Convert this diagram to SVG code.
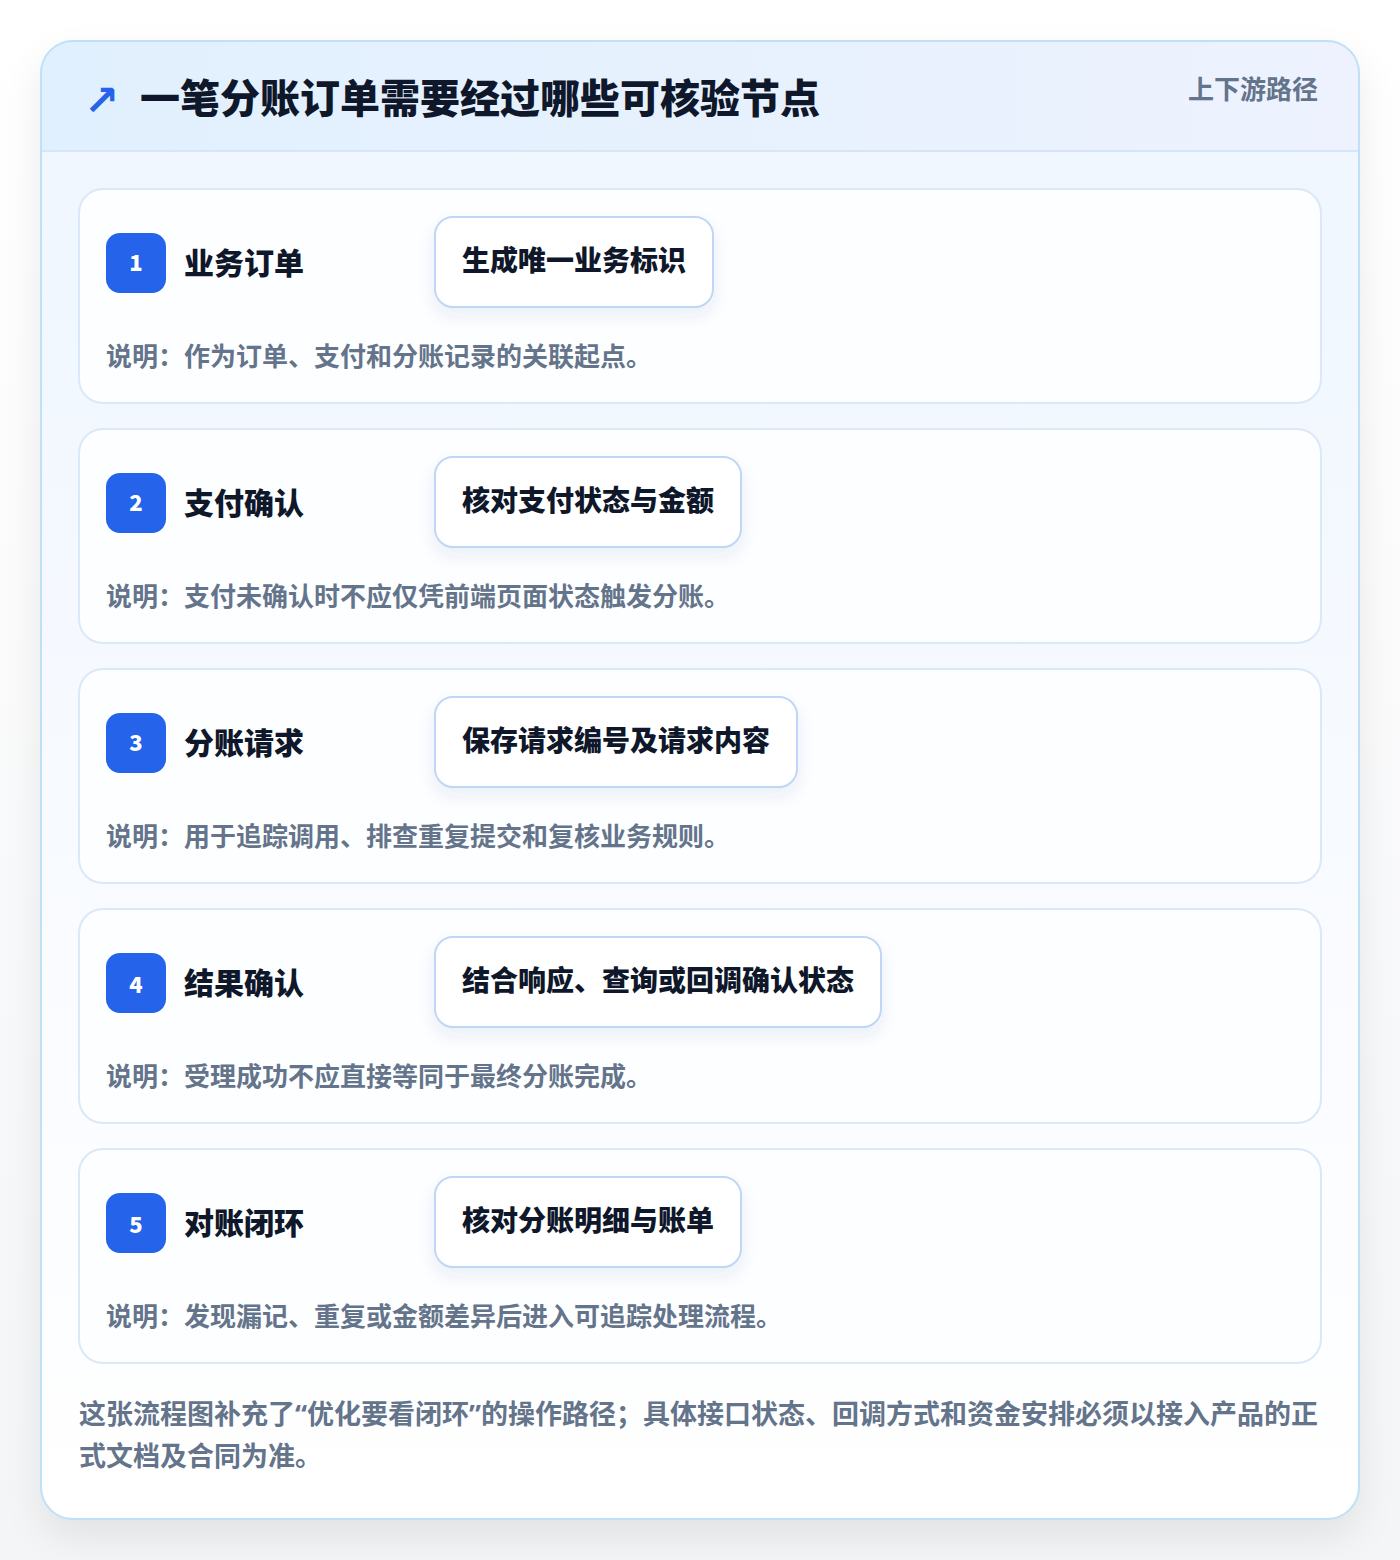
<svg xmlns="http://www.w3.org/2000/svg" width="1400" height="1560" viewBox="0 0 1400 1560">
<defs>
<linearGradient id="bg" x1="0" y1="0" x2="0" y2="1"><stop offset="0" stop-color="#ffffff"/><stop offset="1" stop-color="#f4f5f7"/></linearGradient>
<linearGradient id="card" x1="0" y1="0" x2="0" y2="1"><stop offset="0" stop-color="#eef6ff"/><stop offset="0.5" stop-color="#f7faff"/><stop offset="1" stop-color="#ffffff"/></linearGradient>
<linearGradient id="head" x1="0" y1="0" x2="1" y2="0"><stop offset="0" stop-color="#e1f0fe"/><stop offset="1" stop-color="#edf2fe"/></linearGradient>
<filter id="sh" x="-10%" y="-10%" width="120%" height="120%"><feDropShadow dx="0" dy="18" stdDeviation="18" flood-color="#0f172a" flood-opacity="0.08"/></filter>
<filter id="psh" x="-20%" y="-30%" width="140%" height="170%"><feDropShadow dx="0" dy="8" stdDeviation="8" flood-color="#1e3a8a" flood-opacity="0.08"/></filter>
<clipPath id="cc"><rect x="41" y="41" width="1318" height="1478" rx="32"/></clipPath>
</defs>
<style>
text{font-family:"Noto Sans CJK SC","Noto Sans",sans-serif}
.step{fill:#fdfeff;stroke:#dbe8f8;stroke-width:2}
.badge{fill:#2563eb}
.num{fill:#ffffff;font-size:22px;font-weight:800;text-anchor:middle}
.ttl{fill:#0f172a;font-size:30px;font-weight:800}
.pill{fill:#ffffff;stroke:#bfd6f6;stroke-width:2}
.ptx{fill:#0f172a;font-size:28px;font-weight:800}
.desc{fill:#64748b;font-size:26px;font-weight:700}
.foot{fill:#64748b;font-size:27px;font-weight:700}
.q{font-family:"Noto Sans","DejaVu Sans",sans-serif}
</style>
<rect width="1400" height="1560" fill="url(#bg)"/>
<g id="frame">
<rect x="41" y="41" width="1318" height="1478" rx="32" fill="url(#card)" filter="url(#sh)"/>
<g clip-path="url(#cc)">
<rect x="41" y="41" width="1318" height="110" fill="url(#head)"/>
<line x1="41" y1="151" x2="1359" y2="151" stroke="#d6e6f8" stroke-width="2"/>
</g>
<rect x="41" y="41" width="1318" height="1478" rx="32" fill="none" stroke="#bfe0f6" stroke-width="2"/>
<text x="84" y="115" font-size="42" font-weight="700" fill="#2563eb" style="font-family:'DejaVu Sans',sans-serif">↗</text>
<text x="140" y="113" font-size="40" font-weight="900" fill="#0f172a">一笔分账订单需要经过哪些可核验节点</text>
<text x="1318" y="99" font-size="26" font-weight="700" fill="#64748b" text-anchor="end">上下游路径</text>
</g>
<g id="step1">
<rect class="step" x="79" y="189" width="1242" height="214" rx="24"/>
<rect class="badge" x="106" y="233" width="60" height="60" rx="14"/>
<text class="num" x="136" y="271">1</text>
<text class="ttl" x="184" y="274">业务订单</text>
<rect class="pill" x="435" y="217" width="278" height="90" rx="18" filter="url(#psh)"/>
<text class="ptx" x="462" y="271">生成唯一业务标识</text>
<text class="desc" x="106" y="366">说明：作为订单、支付和分账记录的关联起点。</text>
</g>
<g id="step2">
<rect class="step" x="79" y="429" width="1242" height="214" rx="24"/>
<rect class="badge" x="106" y="473" width="60" height="60" rx="14"/>
<text class="num" x="136" y="511">2</text>
<text class="ttl" x="184" y="514">支付确认</text>
<rect class="pill" x="435" y="457" width="306" height="90" rx="18" filter="url(#psh)"/>
<text class="ptx" x="462" y="511">核对支付状态与金额</text>
<text class="desc" x="106" y="606">说明：支付未确认时不应仅凭前端页面状态触发分账。</text>
</g>
<g id="step3">
<rect class="step" x="79" y="669" width="1242" height="214" rx="24"/>
<rect class="badge" x="106" y="713" width="60" height="60" rx="14"/>
<text class="num" x="136" y="751">3</text>
<text class="ttl" x="184" y="754">分账请求</text>
<rect class="pill" x="435" y="697" width="362" height="90" rx="18" filter="url(#psh)"/>
<text class="ptx" x="462" y="751">保存请求编号及请求内容</text>
<text class="desc" x="106" y="846">说明：用于追踪调用、排查重复提交和复核业务规则。</text>
</g>
<g id="step4">
<rect class="step" x="79" y="909" width="1242" height="214" rx="24"/>
<rect class="badge" x="106" y="953" width="60" height="60" rx="14"/>
<text class="num" x="136" y="993">4</text>
<text class="ttl" x="184" y="994">结果确认</text>
<rect class="pill" x="435" y="937" width="446" height="90" rx="18" filter="url(#psh)"/>
<text class="ptx" x="462" y="991">结合响应、查询或回调确认状态</text>
<text class="desc" x="106" y="1086">说明：受理成功不应直接等同于最终分账完成。</text>
</g>
<g id="step5">
<rect class="step" x="79" y="1149" width="1242" height="214" rx="24"/>
<rect class="badge" x="106" y="1193" width="60" height="60" rx="14"/>
<text class="num" x="136" y="1233">5</text>
<text class="ttl" x="184" y="1234">对账闭环</text>
<rect class="pill" x="435" y="1177" width="306" height="90" rx="18" filter="url(#psh)"/>
<text class="ptx" x="462" y="1231">核对分账明细与账单</text>
<text class="desc" x="106" y="1326">说明：发现漏记、重复或金额差异后进入可追踪处理流程。</text>
</g>
<g id="connectors"></g>
<g id="footer">
<text class="foot" x="79" y="1424">这张流程图补充了<tspan class="q">“</tspan>优化要看闭环<tspan class="q">”</tspan>的操作路径；具体接口状态、回调方式和资金安排必须以接入产品的正</text>
<text class="foot" x="79" y="1466">式文档及合同为准。</text>
</g>
</svg>
